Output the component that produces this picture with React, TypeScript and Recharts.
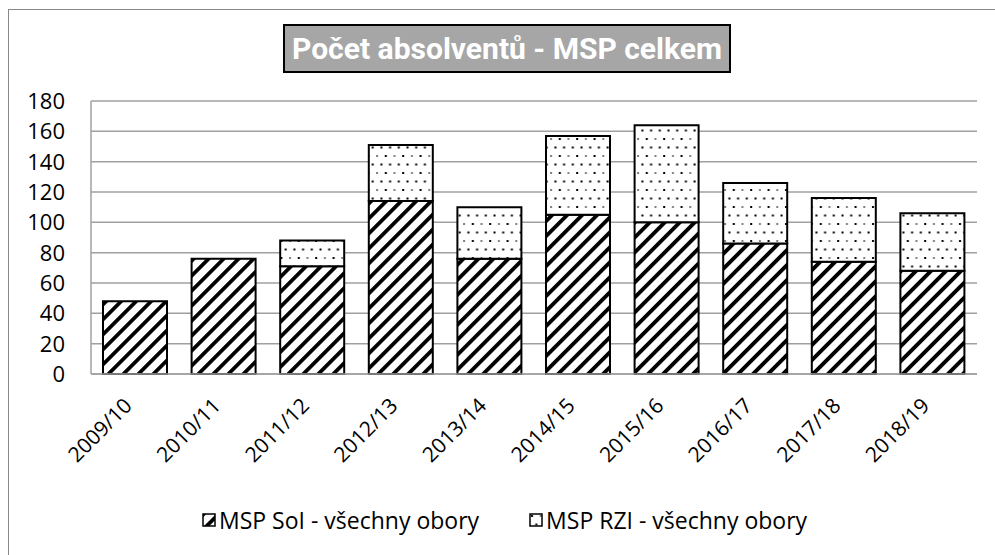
import React from 'react';
import { BarChart, Bar, XAxis, YAxis, CartesianGrid, Legend } from 'recharts';

// school years on the x axis
const years = ['2009/10', '2010/11', '2011/12', '2012/13', '2013/14', '2014/15', '2015/16', '2016/17', '2017/18', '2018/19'];
// MSP SoI - všechny obory
const soiValues = [48, 76, 71, 114, 76, 105, 100, 86, 74, 68];
// MSP RZI - všechny obory
const rziValues = [0, 0, 17, 37, 34, 52, 64, 40, 42, 38];
const yTicks = [0, 20, 40, 60, 80, 100, 120, 140, 160, 180];

const seriesNames = ['MSP SoI - všechny obory', 'MSP RZI - všechny obory'];

const data = years.map((y, i) => ({ year: y, soi: soiValues[i], rzi: rziValues[i] }));

const FONT = '"Open Sans", "Liberation Sans", sans-serif';

const Patterns = ({ prefix }: { prefix: string }) => (
  <defs>
    <pattern id={`${prefix}-stripes`} patternUnits="userSpaceOnUse" width={10.6} height={10.6} patternTransform="rotate(45)">
      <rect x={0} y={0} width={10.6} height={10.6} fill="#fff" />
      <rect x={0} y={0} width={3.8} height={10.6} fill="#000" />
    </pattern>
    <pattern id={`${prefix}-dots`} patternUnits="userSpaceOnUse" width={17.4} height={17}>
      <rect x={0} y={0} width={17.4} height={17} fill="#fff" />
      <rect x={2} y={2} width={2} height={2} fill="#000" />
      <rect x={10.7} y={2.5} width={2} height={1} fill="#000" />
      <rect x={6.3} y={10.5} width={2} height={2} fill="#000" />
      <rect x={15} y={10.5} width={2} height={2} fill="#000" />
    </pattern>
  </defs>
);

const YearTick = (props: any) => {
  const { x, y, payload } = props;
  return (
    <text
      transform={`translate(${x - 2},${y + 31}) rotate(-45)`}
      textAnchor="end"
      fontFamily={FONT}
      fontSize={21}
      fill="#000"
    >
      {payload.value}
    </text>
  );
};

// tick labels sit 26px left of the axis line (axis at plot left edge)
const ValueTick = (props: any) => {
  const { y, payload } = props;
  return (
    <text x={65} y={y} dy="0.36em" textAnchor="end" fontFamily={FONT} fontSize={22} fill="#000">
      {payload.value}
    </text>
  );
};

const LegendBox = () => (
  <div style={{ display: 'flex', alignItems: 'center', paddingLeft: 202, fontFamily: FONT, fontSize: 23, color: '#000' }}>
    {seriesNames.map((name, i) => (
      <div key={name} style={{ display: 'flex', alignItems: 'center', marginRight: 50 }}>
        <svg width={14} height={14} style={{ marginRight: 3 }}>
          <Patterns prefix={`lg${i}`} />
          <rect x={1} y={1} width={12} height={12} fill={`url(#lg${i}-${i === 0 ? 'stripes' : 'dots'})`} stroke="#000" strokeWidth={1.5} />
        </svg>
        <span style={{ lineHeight: '26px' }}>{name}</span>
      </div>
    ))}
  </div>
);

export default function App() {
  return (
    <div style={{ position: 'absolute', left: 0, top: 0, width: 995, height: 555, background: '#fff', overflow: 'hidden' }}>
      <div style={{ position: 'absolute', left: 8, top: 9, width: 1100, height: 700, borderTop: '1px solid #888', borderLeft: '1px solid #888' }} />
      <BarChart
        width={995}
        height={555}
        data={data}
        margin={{ top: 101, right: 18, bottom: 141, left: 31 }}
        style={{ position: 'absolute', left: 0, top: 0 }}
      >
        <Patterns prefix="ch" />
        <CartesianGrid vertical={false} stroke="#a0a0a0" strokeWidth={1.5} />
        <XAxis
          dataKey="year"
          height={40}
          interval={0}
          tickLine={false}
          tickSize={0}
          axisLine={{ stroke: '#a0a0a0', strokeWidth: 1.5 }}
          tick={<YearTick />}
        />
        <YAxis
          width={60}
          domain={[0, 180]}
          ticks={yTicks}
          interval={0}
          tickLine={false}
          tickSize={0}
          axisLine={{ stroke: '#a0a0a0', strokeWidth: 1.5 }}
          tick={<ValueTick />}
        />
        <Bar dataKey="soi" name={seriesNames[0]} stackId="a" barSize={64} fill="url(#ch-stripes)" stroke="#000" strokeWidth={2} isAnimationActive={false} />
        <Bar dataKey="rzi" name={seriesNames[1]} stackId="a" barSize={64} fill="url(#ch-dots)" stroke="#000" strokeWidth={2} isAnimationActive={false} />
        <Legend
          layout="horizontal"
          verticalAlign="middle"
          content={<LegendBox />}
          wrapperStyle={{ position: 'absolute', top: 507, left: 0, width: 995 }}
        />
      </BarChart>
      <svg width={448} height={49} style={{ position: 'absolute', left: 283, top: 24 }}>
        <rect x={1} y={1} width={446} height={47} fill="#a6a6a6" stroke="#000" strokeWidth={2} />
        <text
          x={224}
          y={35}
          textAnchor="middle"
          fontFamily="Roboto, sans-serif"
          fontWeight="bold"
          fontSize={30}
          fill="#fff"
          textLength={430}
          lengthAdjust="spacingAndGlyphs"
        >
          Počet absolventů - MSP celkem
        </text>
      </svg>
    </div>
  );
}
